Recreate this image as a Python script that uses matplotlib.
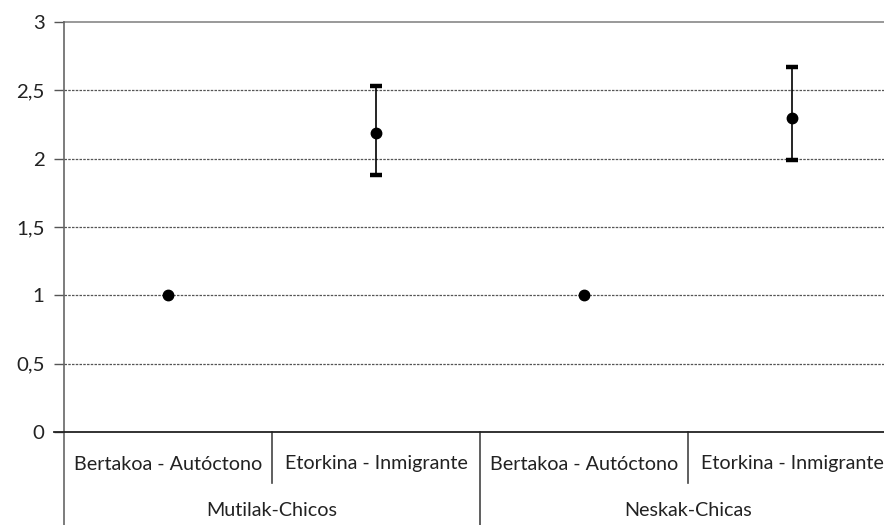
import matplotlib
matplotlib.use("Agg")
import matplotlib.pyplot as plt
import matplotlib.transforms as mtransforms
import numpy as np

# ── Data ──────────────────────────────────────────────────────────────────────
groups     = ["Mutilak-Chicos", "Neskak-Chicas"]
categories = ["Bertakoa - Autóctono", "Etorkina - Inmigrante",
              "Bertakoa - Autóctono", "Etorkina - Inmigrante"]
values     = [1.0, 2.19, 1.0, 2.30]
ci_low     = [np.nan, 1.88, np.nan, 1.99]
ci_high    = [np.nan, 2.53, np.nan, 2.67]
yticks     = [0, 0.5, 1, 1.5, 2, 2.5, 3]
ytick_lbls = ["0", "0,5", "1", "1,5", "2", "2,5", "3"]

plt.rcParams["font.family"] = ["Lato", "DejaVu Sans"]
FS = 14.2

W, H = 884, 525
fig = plt.figure(figsize=(W / 100, H / 100), dpi=100)
ax = fig.add_axes([64 / W, (H - 432) / H, (896 - 64) / W, (432 - 22) / H])

x = np.arange(len(categories)) + 0.5
vals = np.array(values)
lo = np.array(ci_low)
hi = np.array(ci_high)

# points
ax.plot(x, vals, "o", color="black", markersize=7.5, zorder=4, clip_on=False)

# confidence intervals
m = ~np.isnan(lo)
ax.errorbar(x[m], vals[m], yerr=[vals[m] - lo[m], hi[m] - vals[m]],
            fmt="none", ecolor="black", elinewidth=1.2, capsize=4.3,
            capthick=3.2, zorder=3)

ax.set_xlim(0, len(categories))
ax.set_ylim(0, 3)
ax.set_yticks(yticks)
ax.set_yticklabels(ytick_lbls, fontsize=FS + 0.5, color="#222222")
ax.tick_params(axis="y", length=7, width=1, color="#555555", pad=7)
ax.set_xticks([])

for y in yticks[1:-1]:
    ax.axhline(y, color="#555555", linestyle=(0, (2, 1)), linewidth=0.9,
               zorder=1)
ax.axhline(3, color="#888888", linewidth=1.2, zorder=1, clip_on=False)

for s in ("top", "right"):
    ax.spines[s].set_visible(False)
ax.spines["left"].set_color("#666666")
ax.spines["left"].set_linewidth(1.2)
ax.spines["bottom"].set_color("#222222")
ax.spines["bottom"].set_linewidth(1.3)

# ── Two-level category axis ──────────────────────────────────────────────────
trans = mtransforms.blended_transform_factory(ax.transData, ax.transAxes)
px = 1 / (432 - 22)   # one pixel in axes-fraction units (vertical)

# left axis line runs down to the bottom of the figure
ax.plot([0, 0], [0, -95 * px], transform=trans, color="#666666",
        linewidth=1.2, clip_on=False)
# bottom axis extends a bit left past the y axis
ax.plot([-10 / 208, 0], [0, 0], transform=trans, color="#222222",
        linewidth=1.3, clip_on=False)

for xi in [1, 3]:      # short dividers between categories
    ax.plot([xi, xi], [0, -51 * px], transform=trans, color="#444444",
            linewidth=1.2, clip_on=False)
for xi in [2, 4]:      # long dividers between groups
    ax.plot([xi, xi], [0, -95 * px], transform=trans, color="#444444",
            linewidth=1.2, clip_on=False)

for xi, lbl in zip(x, categories):
    ax.text(xi, -32 * px, lbl, transform=trans, ha="center", va="center",
            fontsize=FS, color="#222222")
for gi, g in enumerate(groups):
    ax.text(2 * gi + 1, -79 * px, g, transform=trans, ha="center",
            va="center", fontsize=FS, color="#222222")

fig.savefig("out.png", dpi=100, facecolor="white")
